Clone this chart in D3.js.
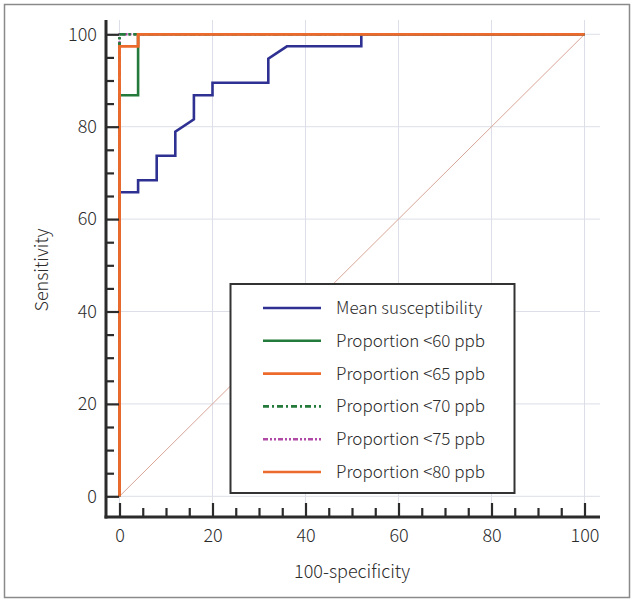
<!DOCTYPE html>
<html>
<head>
<meta charset="utf-8">
<script src="https://cdn.jsdelivr.net/npm/d3@7/dist/d3.min.js"></script>
<style>
  html, body { margin: 0; padding: 0; background: #fff; }
  svg { display: block; }
  text { font-family: "Noto Sans CJK KR", "Noto Sans", sans-serif; font-weight: 300; fill: #2b2b2b; }
</style>
</head>
<body>
<svg id="chart" width="638" height="604"></svg>
<script>
// ---- data ----
const xTicks = [0, 20, 40, 60, 80, 100];
const yTicks = [0, 20, 40, 60, 80, 100];
const minorTicks = [5, 10, 15, 25, 30, 35, 45, 50, 55, 65, 70, 75, 85, 90, 95];

const seriesNames = ["Mean susceptibility", "Proportion <60 ppb", "Proportion <65 ppb",
                     "Proportion <70 ppb", "Proportion <75 ppb", "Proportion <80 ppb"];

const meanX = [0, 0, 4, 4, 8, 8, 12, 12, 16, 16, 20, 20, 32, 32, 36, 52, 52, 100];
const meanY = [0, 65.8, 65.8, 68.4, 68.4, 73.7, 73.7, 78.9, 81.6, 86.8, 86.8, 89.5, 89.5, 94.7, 97.4, 97.4, 100, 100];

const p60X = [0, 0, 4, 4, 100];
const p60Y = [0, 86.8, 86.8, 100, 100];

const p65X = [0, 0, 4, 4, 100];
const p65Y = [0, 97.4, 97.4, 100, 100];

const p70X = [0, 0, 100];
const p70Y = [0, 100, 100];

const p75X = [0, 0, 100];
const p75Y = [0, 100, 100];

const p80X = [0, 0, 4, 4, 100];
const p80Y = [0, 97.4, 97.4, 100, 100];

const refX = [0, 100];
const refY = [0, 100];

// ---- styles ----
const styles = [
  { color: "#2e3192", dash: null },
  { color: "#237a3b", dash: null },
  { color: "#ec6a2c", dash: null },
  { color: "#237a3b", dash: "6,3,2,3" },
  { color: "#b14aa6", dash: "5,2,2,2,2,2" },
  { color: "#ec6a2c", dash: null }
];
const seriesData = [
  [meanX, meanY], [p60X, p60Y], [p65X, p65Y], [p70X, p70Y], [p75X, p75Y], [p80X, p80Y]
];

const svg = d3.select("#chart");

// outer frame
svg.append("rect").attr("x", 4.5).attr("y", 4.5).attr("width", 625).attr("height", 593)
  .attr("fill", "none").attr("stroke", "#8a8a8a").attr("stroke-width", 1.5);

const x = d3.scaleLinear().domain([0, 100]).range([119.5, 584.5]);
const y = d3.scaleLinear().domain([0, 100]).range([496.3, 34.3]);

const axisX = 106, axisY = 517;
const plotRight = 600, plotTop = 20;

// grid
const g = svg.append("g");
g.selectAll("line.vg").data(xTicks).join("line")
  .attr("x1", d => x(d)).attr("x2", d => x(d)).attr("y1", plotTop).attr("y2", axisY)
  .attr("stroke", "#dcdfe7").attr("stroke-width", 1);
g.selectAll("line.hg").data(yTicks).join("line")
  .attr("y1", d => y(d)).attr("y2", d => y(d)).attr("x1", axisX).attr("x2", plotRight)
  .attr("stroke", "#dcdfe7").attr("stroke-width", 1);

// reference diagonal
const line = d3.line().x(d => x(d[0])).y(d => y(d[1]));
svg.append("path").attr("d", line(d3.zip(refX, refY)))
  .attr("fill", "none").attr("stroke", "#d9a597").attr("stroke-width", 1);

// clip for the part of <70 that shows above the orange curves near the corner
svg.append("clipPath").attr("id", "cornerClip").append("rect")
  .attr("x", x(0) - 3).attr("y", y(100) - 3)
  .attr("width", x(4) - x(0) + 1).attr("height", y(97.4) - y(100) + 1);

// curves (draw order)
const order = [0, 1, 4, 3, 5, 2];
function drawSeries(i, clip) {
  const [xs, ys] = seriesData[i];
  const p = svg.append("path").attr("d", line(d3.zip(xs, ys)))
    .attr("fill", "none").attr("stroke", styles[i].color).attr("stroke-width", 2.6)
    .attr("stroke-dasharray", styles[i].dash).attr("stroke-linejoin", "miter");
  if (clip) p.attr("clip-path", "url(#cornerClip)");
}
order.forEach(i => drawSeries(i, false));
drawSeries(3, true);

// axes
const yAxisMajor = d3.axisLeft(y).tickValues(yTicks).tickSizeInner(-13).tickSizeOuter(0).tickPadding(9);
const yAxisMinor = d3.axisLeft(y).tickValues(minorTicks).tickSizeInner(-8).tickSizeOuter(0).tickFormat("");
const xAxisMajor = d3.axisBottom(x).tickValues(xTicks).tickSizeInner(-14).tickSizeOuter(0).tickPadding(12);
const xAxisMinor = d3.axisBottom(x).tickValues(minorTicks).tickSizeInner(-9).tickSizeOuter(0).tickFormat("");

function styleAxis(sel) {
  sel.select(".domain").remove();
  sel.selectAll(".tick line").attr("stroke", "#2b2b2b").attr("stroke-width", 2.2);
  sel.selectAll(".tick text").attr("font-family", "Noto Sans CJK KR, Noto Sans, sans-serif")
    .attr("font-weight", 300).attr("font-size", 18).attr("fill", "#2b2b2b");
}
svg.append("g").attr("transform", `translate(${axisX},0)`).call(yAxisMajor).call(styleAxis);
svg.append("g").attr("transform", `translate(${axisX},0)`).call(yAxisMinor).call(styleAxis);
svg.append("g").attr("transform", `translate(0,${axisY})`).call(xAxisMajor).call(styleAxis);
svg.append("g").attr("transform", `translate(0,${axisY})`).call(xAxisMinor).call(styleAxis);

// axis lines
svg.append("line").attr("x1", axisX).attr("x2", axisX).attr("y1", plotTop).attr("y2", axisY + 1.5)
  .attr("stroke", "#2b2b2b").attr("stroke-width", 3);
svg.append("line").attr("x1", axisX - 1.5).attr("x2", plotRight).attr("y1", axisY).attr("y2", axisY)
  .attr("stroke", "#2b2b2b").attr("stroke-width", 3);

// axis titles
svg.append("text").attr("x", x(50)).attr("y", 578).attr("text-anchor", "middle")
  .attr("font-size", 18).text("100-specificity");
svg.append("text").attr("transform", `translate(48,270) rotate(-90)`).attr("text-anchor", "middle")
  .attr("font-size", 18).text("Sensitivity");

// legend
const lg = svg.append("g");
lg.append("rect").attr("x", 230.5).attr("y", 284).attr("width", 284).attr("height", 209)
  .attr("fill", "#fff").attr("stroke", "#333").attr("stroke-width", 2);
seriesNames.forEach((name, i) => {
  const yy = 308 + i * 32.8;
  lg.append("line").attr("x1", 263).attr("x2", 321).attr("y1", yy).attr("y2", yy)
    .attr("stroke", styles[i].color).attr("stroke-width", 2.6)
    .attr("stroke-dasharray", styles[i].dash);
  lg.append("text").attr("x", 336).attr("y", yy + 6).attr("font-size", 17).text(name);
});
</script>
</body>
</html>
